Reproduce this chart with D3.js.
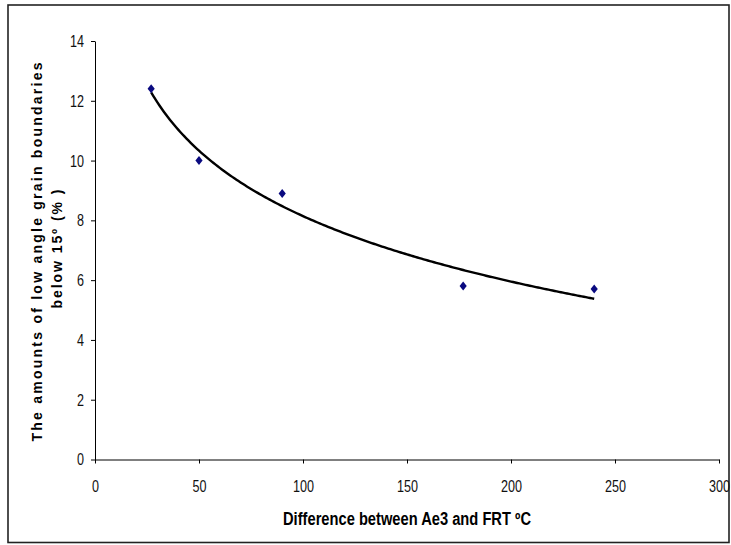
<!DOCTYPE html>
<html>
<head>
<meta charset="utf-8">
<script src="https://cdn.jsdelivr.net/npm/d3@7"></script>
<style>
  body { margin: 0; background: #fff; }
  .tick text { font-family: 'Liberation Sans', Arial, sans-serif; font-size: 17px; fill: #111; }
</style>
</head>
<body>
<div class="container"></div>
<script>
// measured values
let deltaT = [27, 50, 90, 177, 240];
let lowAngle = [12.4, 10, 8.9, 5.8, 5.7];
let xTicks = [0, 50, 100, 150, 200, 250, 300];
let yTicks = [0, 2, 4, 6, 8, 10, 12, 14];

let W = 731, H = 545;
let margin = { top: 41, right: 12, bottom: 85.5, left: 95 };
let width = 719 - margin.left;
let height = 459.5 - margin.top;

let svg = d3
  .select('.container')
  .append('svg')
  .attr('width', W)
  .attr('height', H);

// outer frame
svg
  .append('rect')
  .attr('x', 8)
  .attr('y', 5)
  .attr('width', 721)
  .attr('height', 537.5)
  .attr('fill', 'none')
  .attr('stroke', '#222')
  .attr('stroke-width', 1.6);

let g = svg
  .append('g')
  .attr('transform', 'translate(' + margin.left + ',' + margin.top + ')');

let x = d3.scaleLinear().domain([0, 300]).range([0, width]);
let y = d3.scaleLinear().domain([0, 14]).range([height, 0]);

// narrow look for tick labels
let squeeze = (a) =>
  a
    .selectAll('.tick text')
    .attr('textLength', function () {
      return this.textContent.length * 7;
    })
    .attr('lengthAdjust', 'spacingAndGlyphs');

g.append('g')
  .attr('transform', 'translate(0,' + height + ')')
  .call(d3.axisBottom(x).tickValues(xTicks).tickSize(4).tickSizeOuter(0).tickPadding(16))
  .call((a) => a.select('.domain').attr('stroke', '#000'))
  .call(squeeze);

g.append('g')
  .call(d3.axisLeft(y).tickValues(yTicks).tickSize(4).tickSizeOuter(0).tickPadding(7))
  .call((a) => a.select('.domain').attr('stroke', '#000'))
  .call(squeeze);

// logarithmic trend line fitted to the points
let lx = deltaT.map((d) => Math.log(d));
let mx = d3.mean(lx), my = d3.mean(lowAngle);
let sxy = d3.sum(lx, (v, i) => (v - mx) * (lowAngle[i] - my));
let sxx = d3.sum(lx, (v) => (v - mx) * (v - mx));
let slope = sxy / sxx;
let icpt = my - slope * mx;
let trendX = d3.range(d3.min(deltaT), d3.max(deltaT) + 0.5, 1);

let line = d3
  .line()
  .x((d) => x(d))
  .y((d) => y(slope * Math.log(d) + icpt));

g.append('path')
  .datum(trendX)
  .attr('d', line)
  .attr('fill', 'none')
  .attr('stroke', '#000')
  .attr('stroke-width', 2.4);

// diamond markers
g.append('g')
  .selectAll('path')
  .data(deltaT)
  .enter()
  .append('path')
  .attr('transform', (d, i) => 'translate(' + x(d) + ',' + y(lowAngle[i]) + ')')
  .attr('d', 'M0,-4.5L3.6,0L0,4.5L-3.6,0Z')
  .attr('fill', '#0a0a80');

// axis titles
svg
  .append('text')
  .attr('x', 407)
  .attr('y', 525)
  .attr('text-anchor', 'middle')
  .attr('textLength', 248)
  .attr('lengthAdjust', 'spacingAndGlyphs')
  .style('font-family', "'Liberation Sans', Arial, sans-serif")
  .style('font-weight', 'bold')
  .style('font-size', '18px')
  .text('Difference between Ae3 and FRT ºC');

let yt = svg
  .append('g')
  .attr('transform', 'translate(0,' + 252 + ') rotate(-90)');

yt.append('text')
  .attr('x', 0)
  .attr('y', 42)
  .attr('text-anchor', 'middle')
  .attr('textLength', 379)
  .attr('lengthAdjust', 'spacing')
  .style('font-family', "'Liberation Sans', Arial, sans-serif")
  .style('font-weight', 'bold')
  .style('font-size', '14px')
  .text('The amounts of low angle grain boundaries');

yt.append('text')
  .attr('x', 3)
  .attr('y', 62)
  .attr('text-anchor', 'middle')
  .attr('textLength', 119)
  .attr('lengthAdjust', 'spacing')
  .style('font-family', "'Liberation Sans', Arial, sans-serif")
  .style('font-weight', 'bold')
  .style('font-size', '14px')
  .text('below 15º (% )');
</script>
</body>
</html>
